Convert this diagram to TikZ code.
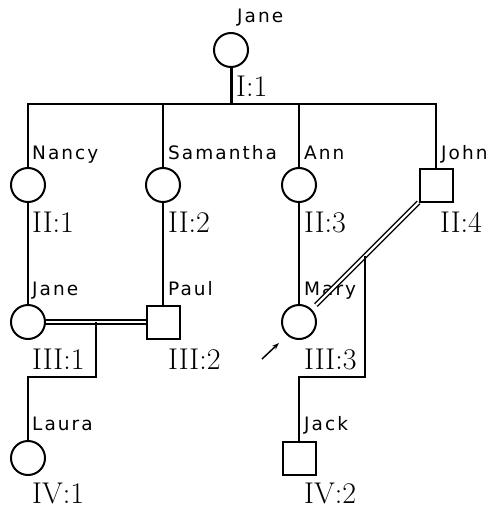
\documentclass[tikz,border=0pt]{standalone}
\usepackage{fontspec}
\usetikzlibrary{arrows.meta}
\newfontfamily\namefont[LetterSpace=11]{DejaVu Sans}
\begin{document}
\begin{tikzpicture}[x=1pt,y=-1pt,
  female/.style={circle,draw,line width=2pt,minimum size=34pt,inner sep=0pt},
  male/.style={rectangle,draw,line width=2pt,minimum size=33pt,inner sep=0pt},
  pname/.style={anchor=base west,inner sep=0pt,font=\namefont\fontsize{18.5}{20}\selectfont},
  pid/.style={anchor=base west,inner sep=0pt,font=\fontsize{30}{32}\selectfont},
  link/.style={line width=2pt},
  mating/.style={line width=1.5pt,double,double distance=2.2pt}]
\useasboundingbox (0,0) rectangle (496,508);

% generation I
\node[female] (g1) at (231,50) {};
% generation II
\node[female] (nancy) at (28,185) {};
\node[female] (sam)   at (163,185) {};
\node[female] (ann)   at (299,185) {};
\node[male]   (john)  at (436,185) {};
% generation III
\node[female] (jane3) at (28,322) {};
\node[male]   (paul)  at (163,322) {};
\node[female] (mary)  at (299,322) {};
% generation IV
\node[female] (laura) at (28,458) {};
\node[male]   (jack)  at (299,458) {};

% names
\node[pname] (t-g1)    at (237,23)  {Jane};
\node[pname] (t-nancy) at (32,159)  {Nancy};
\node[pname] (t-sam)   at (168,159) {Samantha};
\node[pname] (t-ann)   at (304,159) {Ann};
\node[pname] (t-john)  at (441,159) {John};
\node[pname] (t-jane3) at (32,295)  {Jane};
\node[pname] (t-paul)  at (168,295) {Paul};
\node[pname] (t-mary)  at (304,295) {Mary};
\node[pname] (t-laura) at (32,430)  {Laura};
\node[pname] (t-jack)  at (304,430) {Jack};

% pedigree numbers
\node[pid] (i-g1)    at (236,97)  {I:1};
\node[pid] (i-nancy) at (32,232)  {II:1};
\node[pid] (i-sam)   at (168,232) {II:2};
\node[pid] (i-ann)   at (304,232) {II:3};
\node[pid] (i-john)  at (440,232) {II:4};
\node[pid] (i-jane3) at (32,369)  {III:1};
\node[pid] (i-paul)  at (168,369) {III:2};
\node[pid] (i-mary)  at (304,369) {III:3};
\node[pid] (i-laura) at (32,503)  {IV:1};
\node[pid] (i-jack)  at (304,503) {IV:2};

% sibship of generation II
\coordinate (sib) at (231,104.5);
\draw[line width=3pt] (g1.south) -- (sib);
\draw[link] (nancy.north) |- (sib) -| (john.north);
\draw[link] (sam.north) |- (sib);
\draw[link] (ann.north) |- (sib);

% parent to child
\draw[link] (nancy.south) -- (jane3.north);
\draw[link] (sam.south) -- (paul.north);
\draw[link] (ann.south) -- (mary.north);

% matings and their offspring
\draw[mating] (jane3.east) -- (paul.west) coordinate[pos=0.5] (m1);
\draw[link] (m1) -- ++(0,54.5) -| (laura.north);
\draw[mating,shorten >=6pt] (john) -- (mary);
\path (john.south west) -- (mary) coordinate[pos=0.5] (m2);
\draw[link] (m2) -- (m2 |- m1) -- ++(0,54.5) -| (jack.north);

% proband arrow
\coordinate (pb) at (262,359);
\draw[line width=1.5pt,-{Stealth[length=7pt,width=5pt]}] (pb) -- ++(17,-16);
\end{tikzpicture}
\end{document}
